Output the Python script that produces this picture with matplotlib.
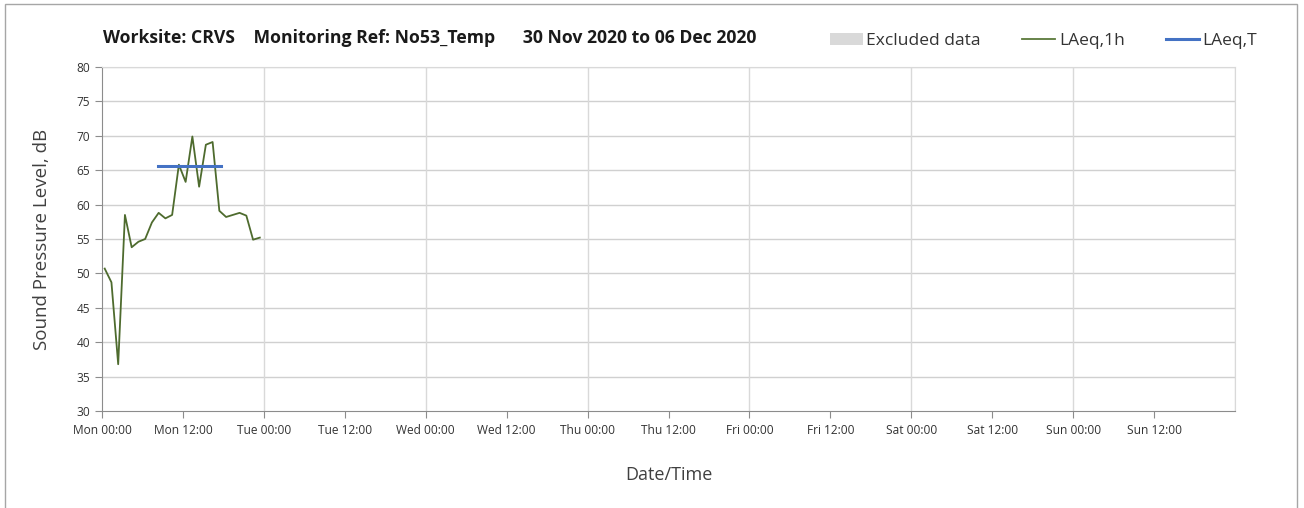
import matplotlib
matplotlib.use("Agg")
import matplotlib.pyplot as plt
from matplotlib.patches import Patch, Rectangle
from matplotlib.lines import Line2D
import numpy as np

plt.rcParams['font.family'] = ['Open Sans', 'DejaVu Sans']

# Data (hours since Mon 30 Nov 2020 00:00)
hours = [0.4, 1.4, 2.4, 3.4, 4.4, 5.4, 6.4, 7.4, 8.4, 9.4, 10.4, 11.4,
         12.4, 13.4, 14.4, 15.4, 16.4, 17.4, 18.4, 19.4, 20.4, 21.4, 22.4, 23.4]
laeq_1h = [50.7, 48.7, 36.8, 58.5, 53.8, 54.6, 55.0, 57.4, 58.8, 58.0, 58.5, 65.8,
           63.3, 69.9, 62.6, 68.7, 69.1, 59.1, 58.2, 58.5, 58.8, 58.4, 54.9, 55.2]
laeq_t_start = 8.3
laeq_t_end = 17.6
laeq_t_value = 65.6
excluded_spans = []  # no excluded data in this period

tick_hours = list(range(0, 168, 12))
tick_labels = ["Mon 00:00", "Mon 12:00", "Tue 00:00", "Tue 12:00", "Wed 00:00", "Wed 12:00",
               "Thu 00:00", "Thu 12:00", "Fri 00:00", "Fri 12:00", "Sat 00:00", "Sat 12:00",
               "Sun 00:00", "Sun 12:00"]
y_ticks = list(range(30, 81, 5))

W, H = 1304, 508
fig = plt.figure(figsize=(W / 100, H / 100), dpi=100)
fig.patches.append(Rectangle((5 / W, -0.1), (1297 - 5) / W, (H - 4) / H + 0.1,
                             transform=fig.transFigure, fill=False,
                             edgecolor='#a6a6a6', linewidth=1.0))

ax = fig.add_axes([102 / W, (H - 411) / H, (1235 - 102) / W, (411 - 67) / H])

for s, e in excluded_spans:
    ax.axvspan(s, e, color='#d9d9d9', zorder=0)

ax.plot(hours, laeq_1h, color='#4e6b2e', linewidth=1.3, zorder=3)
ax.plot([laeq_t_start, laeq_t_end], [laeq_t_value, laeq_t_value],
        color='#4472c4', linewidth=2.2, zorder=4)

ax.set_xlim(0, 168)
ax.set_ylim(30, 80)
ax.set_xticks(tick_hours)
ax.set_xticklabels(tick_labels)
ax.set_yticks(y_ticks)

for y in y_ticks[1:]:
    ax.axhline(y, color='#d0d0d0', linewidth=1.0, zorder=1)
for xh in range(24, 169, 24):
    ax.axvline(xh, color='#d9d9d9', linewidth=1.0, zorder=1)

for side in ['top', 'right']:
    ax.spines[side].set_color('#d9d9d9')
for side in ['left', 'bottom']:
    ax.spines[side].set_color('#8c8c8c')
ax.tick_params(axis='both', direction='out', color='#8c8c8c', length=5,
               labelsize=8.6, labelcolor='#333333')
ax.tick_params(axis='x', pad=4)

ax.set_ylabel("Sound Pressure Level, dB", fontsize=13.5, color='#404040', labelpad=18)
ax.set_xlabel("Date/Time", fontsize=13, color='#404040', labelpad=21)

fig.text(103 / W, 1 - 38 / H,
         "Worksite: CRVS    Monitoring Ref: No53_Temp      30 Nov 2020 to 06 Dec 2020",
         fontsize=12.7, fontweight='bold', color='#1a1a1a', va='center', ha='left')

handles = [Patch(facecolor='#d9d9d9', edgecolor='none'),
           Line2D([], [], color='#5b7a3a', linewidth=1.3),
           Line2D([], [], color='#4472c4', linewidth=2.2)]
fig.legend(handles, ["Excluded data", "LAeq,1h", "LAeq,T"], ncol=3, frameon=False,
           loc='center right', bbox_to_anchor=(1273 / W, 1 - 41 / H),
           fontsize=12.5, handlelength=1.9, handletextpad=0.2, columnspacing=2.4,
           labelcolor='#333333')

fig.savefig("out.png", dpi=100)
